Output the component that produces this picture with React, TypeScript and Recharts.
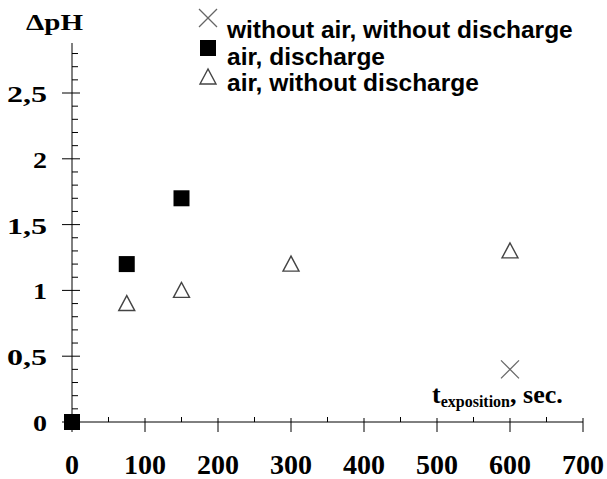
import { ScatterChart, Scatter, XAxis, YAxis } from 'recharts'

const xTicks = [0, 50, 100, 150, 200, 250, 300, 350, 400, 450, 500, 550, 600, 650, 700]
const yTicks = [
  0, 0.1, 0.2, 0.3, 0.4, 0.5, 0.6, 0.7, 0.8, 0.9, 1, 1.1, 1.2, 1.3, 1.4, 1.5, 1.6, 1.7, 1.8, 1.9, 2,
  2.1, 2.2, 2.3, 2.4, 2.5, 2.6, 2.7, 2.8,
]

// without air, without discharge
const crossT = [600]
const crossPH = [0.4]
// air, discharge
const squareT = [0, 75, 150]
const squarePH = [0, 1.2, 1.7]
// air, without discharge
const triangleT = [75, 150, 300, 600]
const trianglePH = [0.9, 1.0, 1.2, 1.3]

const legendLabels = ['without air, without discharge', 'air, discharge', 'air, without discharge']

const serif = '"Liberation Serif", "Times New Roman", serif'
const sans = '"Liberation Sans", Arial, sans-serif'

const toPoints = (ts: number[], vs: number[]) => ts.map((t, i) => ({ t, ph: vs[i] }))

function isMajor(v: number, step: number) {
  return Math.abs(v / step - Math.round(v / step)) < 1e-6
}

function YTick({ x, y, payload }: any) {
  const v = payload.value
  if (!isMajor(v, 0.5)) return <line x1={x} x2={x + 6} y1={y} y2={y} stroke="#000" />
  const label = String(v).replace('.', ',')
  return (
    <g>
      <line x1={x - 10} x2={x + 8} y1={y} y2={y} stroke="#000" />
      <text
        x={x - 25}
        y={y + 9}
        textAnchor="end"
        fontFamily={serif}
        fontWeight="bold"
        fontSize={24}
        fill="#000"
        textLength={label.length === 1 ? 14 : 40}
        lengthAdjust="spacingAndGlyphs"
      >
        {label}
      </text>
    </g>
  )
}

function XTick({ x, y, payload }: any) {
  const v = payload.value
  if (!isMajor(v, 100)) return <line x1={x} x2={x} y1={y - 5} y2={y} stroke="#000" />
  return (
    <g>
      <line x1={x} x2={x} y1={y - 4} y2={y + 10} stroke="#000" />
      <text x={x} y={y + 52} textAnchor="middle" fontFamily={serif} fontWeight="bold" fontSize={28} fill="#000">
        {v}
      </text>
    </g>
  )
}

const Square = ({ cx, cy }: any) => <rect x={cx - 8} y={cy - 8} width={16} height={16} fill="#000" />

const Triangle = ({ cx, cy }: any) => (
  <polygon
    points={`${cx},${cy - 8} ${cx - 8},${cy + 7} ${cx + 8},${cy + 7}`}
    fill="none"
    stroke="#444"
    strokeWidth={1.4}
  />
)

const Cross = ({ cx, cy }: any) => (
  <g stroke="#666" strokeWidth={1.3}>
    <line x1={cx - 9} y1={cy - 9} x2={cx + 9} y2={cy + 9} />
    <line x1={cx - 9} y1={cy + 9} x2={cx + 9} y2={cy - 9} />
  </g>
)

export default function App() {
  return (
    <div style={{ position: 'absolute', left: 0, top: 0, width: 607, height: 479, background: '#fff' }}>
      <ScatterChart width={607} height={479} margin={{ top: 43, right: 24, left: 0, bottom: 0 }}>
        <XAxis
          dataKey="t"
          type="number"
          domain={[0, 700]}
          ticks={xTicks}
          interval={0}
          tickSize={0}
          tickMargin={0}
          tickLine={false}
          tick={<XTick />}
          axisLine={{ stroke: '#000' }}
          height={57}
        />
        <YAxis
          dataKey="ph"
          type="number"
          domain={[0, 2.88]}
          ticks={yTicks}
          interval={0}
          tickSize={0}
          tickMargin={0}
          tickLine={false}
          tick={<YTick />}
          axisLine={{ stroke: '#000' }}
          width={72}
        />
        <Scatter data={toPoints(triangleT, trianglePH)} shape={Triangle} isAnimationActive={false} />
        <Scatter data={toPoints(crossT, crossPH)} shape={Cross} isAnimationActive={false} />
        <Scatter data={toPoints(squareT, squarePH)} shape={Square} isAnimationActive={false} />
      </ScatterChart>
      <svg
        width={607}
        height={479}
        style={{ position: 'absolute', left: 0, top: 0, pointerEvents: 'none' }}
      >
        <text x={26} y={30} fontFamily={serif} fontWeight="bold" fontSize={24} textLength={57} lengthAdjust="spacingAndGlyphs">
          ΔpH
        </text>
        <Cross cx={208} cy={18} />
        <Square cx={208} cy={48} />
        <Triangle cx={208} cy={77} />
        {legendLabels.map((l, i) => (
          <text key={l} x={227} y={38 + i * 26.5} fontFamily={sans} fontWeight="bold" fontSize={24.5} fill="#000">
            {l}
          </text>
        ))}
        <text x={432} y={403} fontFamily={serif} fontWeight="bold" fill="#000">
          <tspan fontSize={26}>t</tspan>
          <tspan fontSize={16} dy={4}>
            exposition
          </tspan>
          <tspan fontSize={26} dy={-4}>
            , sec.
          </tspan>
        </text>
      </svg>
    </div>
  )
}
